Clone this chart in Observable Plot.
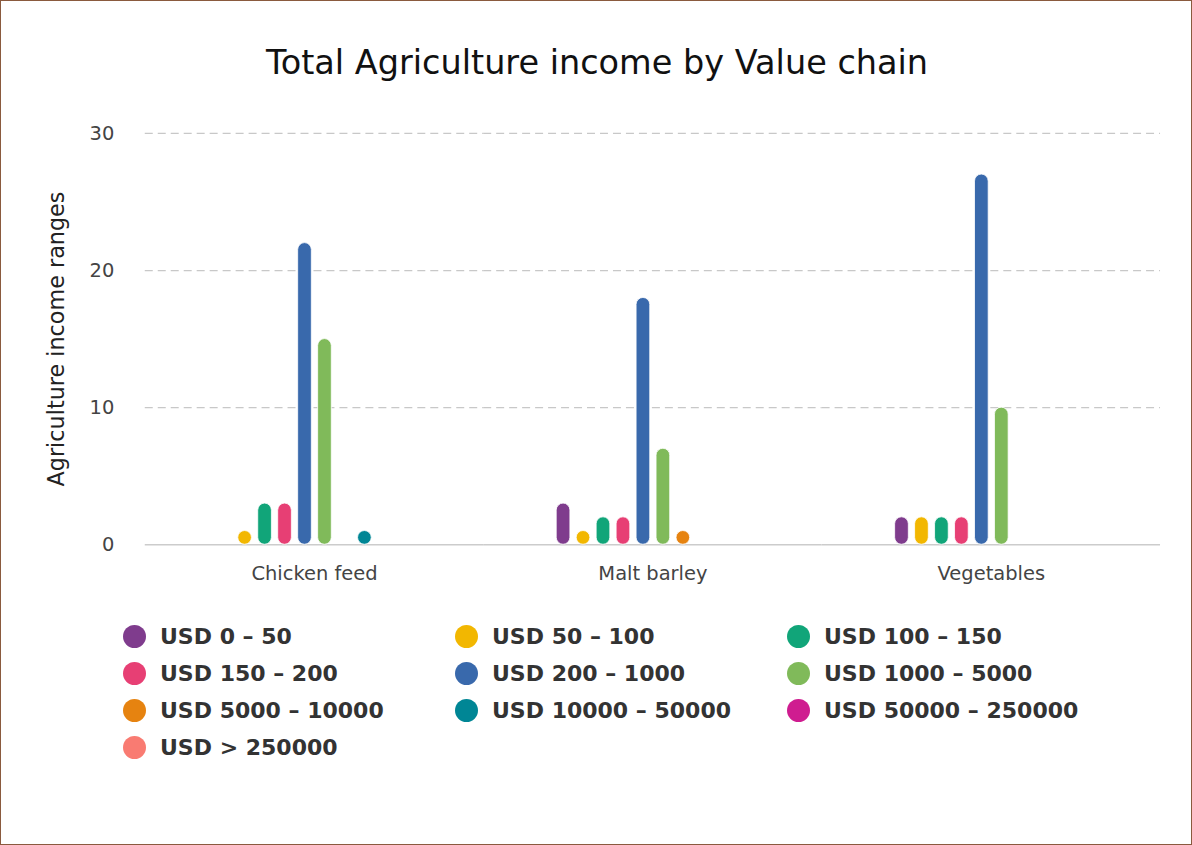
<!DOCTYPE html>
<html>
<head>
<meta charset="utf-8">
<script src="https://cdn.jsdelivr.net/npm/d3@7"></script>
<script src="https://cdn.jsdelivr.net/npm/@observablehq/plot@0.6"></script>
<style>
  html, body { margin: 0; padding: 0; background: #fff; }
  #frame { position: absolute; left: 0; top: 0; width: 1190px; height: 843px; border: 1px solid #8a5a3e; background: #fff; overflow: hidden; }
  #title { position: absolute; left: 0; top: 42px; width: 1192px; text-align: center; font-family: "DejaVu Sans", sans-serif; font-size: 33.5px; color: #111; }
  #chart { position: absolute; left: 0; top: 100px; }
  #ylabel { position: absolute; left: 55px; top: 338px; transform: translate(-50%, -50%) rotate(-90deg); white-space: nowrap; font-family: "DejaVu Sans", sans-serif; font-size: 22.3px; color: #222; }
  #legend { position: absolute; left: 122px; top: 617px; display: grid; grid-template-columns: 332px 332px 332px; grid-auto-rows: 37px; font-family: "DejaVu Sans", sans-serif; font-weight: bold; font-size: 22px; color: #333; }
  .item { display: flex; align-items: center; height: 37px; }
  .dot { width: 23px; height: 23px; border-radius: 50%; margin-right: 14px; flex: none; }
</style>
</head>
<body>
<div id="frame">
  <div id="title">Total Agriculture income by Value chain</div>
  <div id="chart"></div>
  <div id="ylabel">Agriculture income ranges</div>
  <div id="legend"></div>
</div>
<script>
const categories = ["Chicken feed", "Malt barley", "Vegetables"];
const seriesNames = ["USD 0 - 50", "USD 50 - 100", "USD 100 - 150", "USD 150 - 200", "USD 200 - 1000",
  "USD 1000 - 5000", "USD 5000 - 10000", "USD 10000 - 50000", "USD 50000 - 250000", "USD > 250000"];
const seriesColors = ["#7F3C8D", "#F2B701", "#11A579", "#E73F74", "#3969AC",
  "#80BA5A", "#E68310", "#008695", "#CF1C90", "#F97B72"];
const chickenFeed = [0, 1, 3, 3, 22, 15, 0, 1, 0, 0];
const maltBarley  = [3, 1, 2, 2, 18, 7, 1, 0, 0, 0];
const vegetables  = [2, 2, 2, 2, 27, 10, 0, 0, 0, 0];
const yTicks = [0, 10, 20, 30];

const byCategory = [chickenFeed, maltBarley, vegetables];
const rows = [];
categories.forEach((c, ci) => {
  seriesNames.forEach((s, si) => {
    const v = byCategory[ci][si];
    if (v > 0) rows.push({category: c, series: s, value: v});
  });
});

const chart = Plot.plot({
  width: 1192,
  height: 494,
  marginLeft: 144,
  marginRight: 31,
  marginTop: 32,
  marginBottom: 50,
  style: {fontFamily: "DejaVu Sans, sans-serif", fontSize: "19.5px", background: "transparent", color: "#444"},
  fx: {domain: categories, padding: 0, label: null, axis: "bottom", tickSize: 0, tickPadding: 21},
  x: {domain: seriesNames, paddingInner: 0, paddingOuter: 3.35, axis: null},
  y: {domain: [0, 30], ticks: yTicks, tickSize: 0, tickPadding: 31, label: null, tickFormat: d => String(d)},
  color: {domain: seriesNames, range: seriesColors},
  marks: [
    Plot.ruleY(yTicks.filter(d => d > 0), {stroke: "#c8c8c8", strokeDasharray: "8,5", strokeWidth: 1.2, facet: "exclude"}),
    Plot.ruleY([0], {stroke: "#cccccc", strokeWidth: 1.5}),
    Plot.barY(rows, {fx: "category", x: "series", y: "value", fill: "series", rx: 7, insetLeft: 3.15, insetRight: 3.15, stroke: "white", strokeWidth: 0.8})
  ]
});
document.getElementById("chart").appendChild(chart);

const legend = document.getElementById("legend");
seriesNames.forEach((s, i) => {
  const item = document.createElement("div");
  item.className = "item";
  const dot = document.createElement("span");
  dot.className = "dot";
  dot.style.background = seriesColors[i];
  const label = document.createElement("span");
  label.textContent = s.replace(" - ", " – ");
  item.appendChild(dot);
  item.appendChild(label);
  legend.appendChild(item);
});
</script>
</body>
</html>
